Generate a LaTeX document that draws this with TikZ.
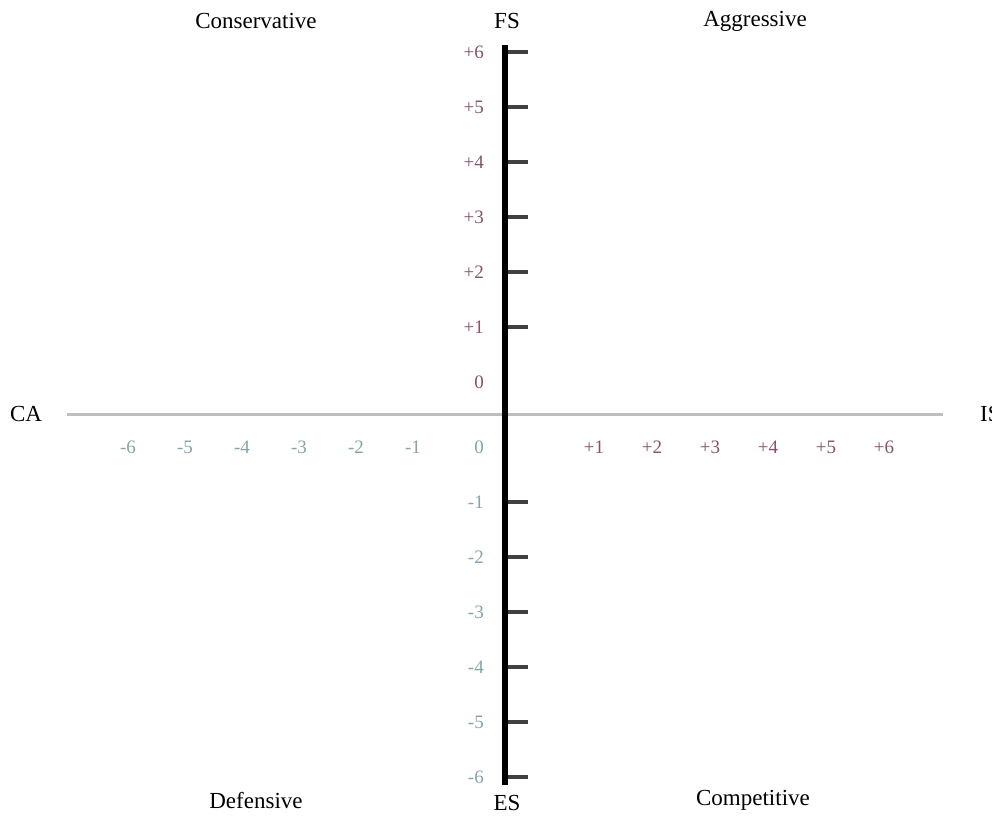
\documentclass[tikz,border=0pt]{standalone}
\usepackage{fontspec}
\setmainfont{Liberation Serif}
\usetikzlibrary{positioning}
\definecolor{posnum}{RGB}{135,82,108}
\definecolor{negnum}{RGB}{132,164,170}
\definecolor{axisgray}{RGB}{190,190,190}

\begin{document}
\begin{tikzpicture}[x=1pt, y=-1pt, every node/.style={inner sep=2pt},
  quad/.style={font=\fontsize{23}{23}\selectfont},
  posval/.style={font=\fontsize{19}{19}\selectfont, color=posnum},
  negval/.style={font=\fontsize{19}{19}\selectfont, color=negnum},
  axtick/.style={line width=3.5pt, black!75},
  vaxis/.style={line width=6pt, black},
  haxis/.style={line width=3pt, axisgray}]
\useasboundingbox (0,0) rectangle (992,817);

% axis ends
\coordinate (west) at (67,414);
\coordinate (east) at (943,414);
\coordinate (north) at (505,45);
\coordinate (south) at (505,785);
\draw[haxis] (west) -- (east);
\draw[vaxis] (north) -- (south);

% quadrant and axis names
\node[quad] (cons) at (256,21) {Conservative};
\node[quad] (aggr) at (755,21) {Aggressive};
\node[quad] (defn) at (256,800) {Defensive};
\node[quad] (comp) at (753,800) {Competitive};
\node[quad] (FS) at (507,21) {FS};
\node[quad] (ES) at (507,803) {ES};
\node[quad] (CA) at (26,414) {CA};
\node[quad, anchor=west, inner sep=0pt] (IS) at (980,414) {IS};

% vertical scale
\node[posval, anchor=east] (v0) at (486,382) {0};
\node[negval, anchor=east] (vn0) at (486,447) {0};
\foreach \i in {1,...,6} {
  \coordinate (tp\i) at (508,382-55*\i);
  \coordinate (tn\i) at (508,447+55*\i);
  \draw[axtick] (tp\i) -- ++(20,0);
  \draw[axtick] (tn\i) -- ++(20,0);
  \node[posval, anchor=east] (vp\i) at (486,382-55*\i) {+\i};
  \node[negval, anchor=east] (vn\i) at (486,447+55*\i) {-\i};
}

% horizontal scale
\foreach \i in {1,...,6} {
  \node[negval] (hn\i) at (470-57*\i,447) {-\i};
  \node[posval] (hp\i) at (536+58*\i,447) {+\i};
}
\end{tikzpicture}
\end{document}
